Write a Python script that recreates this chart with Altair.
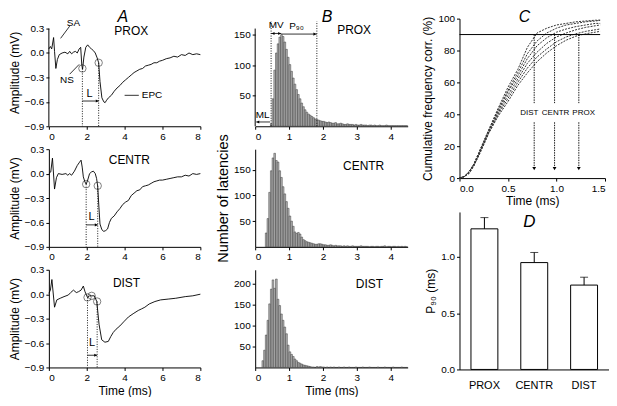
import altair as alt
import pandas as pd

FONT = "Liberation Sans, Arial, DejaVu Sans, sans-serif"

# ---------------- Panel A : field potentials ----------------
PROX_T = [0, 0.08, 0.15, 0.25, 0.3, 0.37, 0.45, 0.55, 0.7, 0.85, 1.0, 1.1, 1.2, 1.3, 1.4, 1.5, 1.6, 1.68,
          1.74, 1.78, 1.85, 1.95, 2.05, 2.15, 2.25, 2.35, 2.45, 2.55, 2.63, 2.7, 2.8, 2.9, 2.97, 3.05, 3.15,
          3.3, 3.45, 3.6, 3.75, 3.9, 4.05, 4.2, 4.35, 4.5, 4.65, 4.8, 4.95, 5.1, 5.25, 5.4, 5.55, 5.7, 5.85,
          6.0, 6.2, 6.4, 6.6, 6.8, 7.0, 7.2, 7.4, 7.6, 7.8, 8.0]
PROX_V = [0.05, 0.08, 0.05, 0.19, 0.02, -0.19, -0.08, -0.02, 0.0, 0.01, -0.01, 0.02, -0.01, 0.01, 0.02, 0.0,
          0.05, 0.07, -0.15, -0.2, -0.05, 0.07, 0.1, 0.07, 0.05, 0.03, 0.0, -0.06, -0.12, -0.35, -0.55, -0.6,
          -0.61, -0.58, -0.55, -0.52, -0.47, -0.43, -0.4, -0.36, -0.33, -0.3, -0.27, -0.24, -0.22, -0.2, -0.19,
          -0.16, -0.15, -0.14, -0.12, -0.12, -0.1, -0.09, -0.07, -0.06, -0.04, -0.05, -0.02, -0.03, 0.0, -0.02,
          -0.01, -0.02]
CENTR_T = [0, 0.1, 0.19, 0.3, 0.4, 0.5, 0.7, 0.9, 1.0, 1.1, 1.2, 1.35, 1.5, 1.62, 1.7, 1.76, 1.82, 1.9, 1.97,
           2.05, 2.15, 2.25, 2.35, 2.45, 2.52, 2.58, 2.64, 2.7, 2.8, 2.9, 3.0, 3.1, 3.2, 3.3, 3.45, 3.6, 3.75,
           3.9, 4.05, 4.2, 4.35, 4.5, 4.65, 4.8, 4.95, 5.1, 5.25, 5.4, 5.55, 5.7, 5.85, 6.0, 6.2, 6.4, 6.6,
           6.8, 7.0, 7.2, 7.4, 7.6, 7.8, 8.0]
CENTR_V = [0.0, 0.02, 0.19, -0.19, -0.05, 0.0, -0.01, 0.0, -0.02, 0.0, -0.02, 0.03, 0.1, 0.14, 0.165, 0.08,
           -0.04, -0.1, -0.13, -0.08, 0.0, 0.02, 0.03, 0.0, -0.06, -0.16, -0.4, -0.62, -0.69, -0.71, -0.7,
           -0.68, -0.6, -0.55, -0.52, -0.47, -0.43, -0.38, -0.35, -0.33, -0.27, -0.24, -0.21, -0.2, -0.16,
           -0.15, -0.14, -0.12, -0.1, -0.09, -0.08, -0.08, -0.07, -0.06, -0.05, -0.04, -0.04, -0.02, -0.03,
           0.0, -0.01, 0.0]
DIST_T = [0, 0.08, 0.16, 0.3, 0.42, 0.6, 0.8, 1.03, 1.15, 1.3, 1.45, 1.56, 1.7, 1.82, 1.91, 2.04, 2.15, 2.26,
          2.4, 2.53, 2.65, 2.79, 2.96, 3.14, 3.27, 3.4, 3.55, 3.75, 3.95, 4.2, 4.45, 4.72, 4.9, 5.07, 5.3,
          5.6, 5.9, 6.3, 6.7, 7.2, 7.6, 8.0]
DIST_V = [0.01, 0.05, 0.18, -0.16, -0.07, -0.05, -0.03, -0.01, 0.02, 0.05, 0.02, 0.03, 0.05, 0.1, 0.03,
          -0.04, -0.02, -0.02, -0.02, -0.09, -0.37, -0.56, -0.59, -0.58, -0.52, -0.47, -0.43, -0.39, -0.34,
          -0.28, -0.24, -0.2, -0.18, -0.16, -0.12, -0.09, -0.07, -0.06, -0.05, -0.03, -0.02, 0.0]

PROX_CIRC_T = [1.77, 2.63]
PROX_CIRC_V = [-0.19, -0.12]
CENTR_CIRC_T = [1.97, 2.58]
CENTR_CIRC_V = [-0.13, -0.15]
DIST_CIRC_T = [2.04, 2.26, 2.55]
DIST_CIRC_V = [-0.04, -0.02, -0.09]
DIST_DROP_T = [2.04, 2.55]
DIST_DROP_V = [-0.04, -0.09]

# ---------------- Panel B : latency histograms (bin 0.05 ms) ----------------
BIN_W = 0.05
PROX_H_START = 0.45
PROX_H = [4, 45, 92, 120, 135, 146, 150, 147, 138, 126,
          113, 101, 90, 79, 69, 60, 52, 45, 38, 32,
          27, 23, 20, 18, 16, 14, 12, 11, 10, 9,
          8, 8, 7, 6, 7, 6, 5, 5, 6, 4,
          4, 5, 4, 3, 3, 4, 3, 3, 3, 2,
          3, 2, 2, 3, 2, 2, 2, 1, 2, 2,
          1, 2, 1, 1, 2, 1, 1, 1, 2, 1,
          1, 1, 1, 1, 1, 1, 1, 1, 1, 1, 1]
CENTR_H_START = 0.30
CENTR_H = [27, 55, 106, 148, 173, 182, 168, 165, 148, 135,
           117, 103, 88, 75, 60, 50, 40, 29, 26, 28,
           25, 19, 14, 12, 10, 9, 8, 7, 6, 5,
           5, 6, 6, 5, 4, 4, 3, 3, 4, 3,
           2, 3, 2, 2, 2, 1, 2, 1, 2, 1,
           1, 2, 1, 1, 1, 1, 2, 1, 1, 1,
           1, 0, 1, 1, 0, 1, 1, 0, 1, 1,
           2, 0, 1, 1, 0, 1, 1, 0, 1, 0,
           1, 0, 1, 0]
DIST_H_START = 0.20
DIST_H = [16, 41, 77, 112, 151, 186, 208, 188, 210, 162,
          147, 127, 112, 96, 80, 53, 37, 31, 26, 20,
          16, 12, 10, 8, 6, 5, 4, 3, 2, 1,
          1, 0, 2, 1, 2, 1, 1, 0, 1, 0,
          1, 0, 1, 0, 0, 1, 0, 0, 1, 0,
          0, 1, 0, 0, 0, 1, 0, 0, 0, 1,
          0, 0, 0, 1, 0, 0, 0, 0, 1, 0,
          0, 0, 1, 0, 0, 0, 0, 1, 0, 0,
          0, 0, 1, 0, 0, 0]

# ---------------- Panel C : cumulative frequency ----------------
C_T = [0, 0.05, 0.1, 0.15, 0.2, 0.25, 0.3, 0.4, 0.5, 0.6, 0.7, 0.8, 0.9, 1.0, 1.1, 1.2, 1.3, 1.4, 1.45]
C_CURVES = {
    "d1": [0, 1, 4, 9, 16, 23, 30, 44, 57, 68, 82, 91, 94, 96, 97, 98, 98.5, 99, 99],
    "d2": [0, 1, 4, 9, 16, 23, 30, 43, 55, 66, 78, 86, 91, 94, 96, 97, 98, 98.5, 99],
    "c1": [0, 1, 4, 9, 15, 22, 29, 42, 54, 64, 75, 83, 88, 91.5, 93.5, 95, 96, 97, 97],
    "c2": [0, 1, 4, 8, 15, 22, 29, 41, 52, 62, 72, 79, 84.5, 88.5, 91, 93, 94.5, 95.5, 96],
    "p1": [0, 1, 3, 8, 15, 21, 28, 40, 50, 60, 69, 76, 81, 85.5, 88.5, 90.5, 92, 93, 93.5],
    "p2": [0, 1, 3, 8, 14, 21, 28, 39, 48, 58, 66, 73, 78.5, 83, 86.5, 89, 90.5, 91.5, 92],
}
C_GROUPS = ["DIST", "CENTR", "PROX"]
C_P90 = [0.77, 0.98, 1.23]
C_LABEL_T = [0.72, 0.99, 1.28]

# ---------------- Panel D : P90 ----------------
D_CATS = ["PROX", "CENTR", "DIST"]
D_MEAN = [1.25, 0.95, 0.75]
D_ERR = [0.10, 0.09, 0.07]

BLACK = "black"
LETTER_SIZE = 16
LETTER_DROP = 3   # px the panel letters' baselines sit below the panel top


def txt(df, size, style="normal", baseline="middle", **kw):
    return alt.Chart(df).mark_text(font=FONT, fontSize=size, fontStyle=style, color=BLACK,
                                   align="center", baseline=baseline, **kw)


# ---------------- builders ----------------
def trace_panel(t, v, circ_t, circ_v, drop_t, drop_v, l_y, l_txt, name, name_pos, xtitle,
                letter=None, extras=False):
    top = 0.3
    height = 98
    per_px = 1.2 / 98
    if letter:
        top = 0.3 + 10 * per_px   # headroom above the axis for the panel letter
        height = 108
    xs = alt.Scale(domain=[0, 8], nice=False)
    ys = alt.Scale(domain=[-0.9, top], nice=False)
    X = alt.X("t:Q", scale=xs, axis=alt.Axis(values=[0, 2, 4, 6, 8], format="d", title=xtitle))
    Y = alt.Y("v:Q", scale=ys, axis=alt.Axis(values=[-0.9, -0.6, -0.3, 0.0, 0.3], format=".1f",
                                            title="Amplitude (mV)", domain=not bool(letter)))
    line = alt.Chart(pd.DataFrame({"t": t, "v": v})).mark_line(color=BLACK, strokeWidth=0.9).encode(X, Y)
    circ = alt.Chart(pd.DataFrame({"t": circ_t, "v": circ_v})).mark_point(
        shape="circle", size=55, color=BLACK, strokeWidth=0.7).encode(X, Y)
    drops = alt.Chart(pd.DataFrame({"t": drop_t, "v": drop_v, "vb": [-0.9] * len(drop_t)})).mark_rule(
        color=BLACK, strokeDash=[1, 1.5], strokeWidth=0.9).encode(X, Y, y2=alt.Y2("vb:Q"))
    larr = alt.Chart(pd.DataFrame({"t": [drop_t[0]], "t2": [drop_t[-1]], "v": [l_y]})).mark_rule(
        color=BLACK, strokeWidth=0.8).encode(X, alt.X2("t2:Q"), Y)
    lhead = alt.Chart(pd.DataFrame({"t": [drop_t[-1] - 0.08], "v": [l_y]})).mark_point(
        shape="triangle-right", filled=True, size=10, color=BLACK, opacity=1).encode(X, Y)
    ltext = txt(pd.DataFrame({"t": [l_txt[0]], "v": [l_txt[1]], "s": ["L"]}), 11).encode(X, Y, text="s:N")
    ntext = txt(pd.DataFrame({"t": [name_pos[0]], "v": [name_pos[1]], "s": [name]}), 12).encode(X, Y, text="s:N")
    layers = [line, drops, circ, larr, lhead, ltext, ntext]
    if letter:
        axis_line = pd.DataFrame({"t": [0.0], "v": [-0.9], "v2": [0.3]})
        layers.append(alt.Chart(axis_line).mark_rule(color=BLACK, strokeWidth=1).encode(X, Y, alt.Y2("v2:Q")))
        lt = pd.DataFrame({"t": [letter[1]], "v": [top - LETTER_DROP * per_px], "s": [letter[0]]})
        layers.append(txt(lt, LETTER_SIZE, style="italic", baseline="alphabetic").encode(X, Y, text="s:N"))
    if extras:
        ann = pd.DataFrame({"t": [1.3, 0.95, 5.45], "v": [0.37, -0.33, -0.52], "s": ["SA", "NS", "EPC"]})
        layers.append(txt(ann, 10).encode(X, Y, text="s:N"))
        segs = pd.DataFrame({"t": [1.1, 1.1, 4.0], "t2": [0.62, 1.6, 4.75],
                             "v": [0.33, -0.26, -0.52], "v2": [0.18, -0.14, -0.52]})
        layers.append(alt.Chart(segs).mark_rule(color=BLACK, strokeWidth=0.8).encode(
            X, alt.X2("t2:Q"), Y, alt.Y2("v2:Q")))
    return alt.layer(*layers).properties(width=152, height=height)


def hist_panel(start, counts, ymax, yvals, name, name_pos, ytitle, xtitle, letter=None, extras=False):
    b0 = [round(start + i * BIN_W, 2) for i in range(len(counts))]
    b1 = [round(x + BIN_W, 2) for x in b0]
    df = pd.DataFrame({"t": b0, "t2": b1, "n": counts, "z": [0] * len(counts)})
    top = ymax
    height = 98
    per_px = ymax / 98
    if letter:
        top = ymax + 10 * per_px
        height = 108
    X = alt.X("t:Q", scale=alt.Scale(domain=[0, 4.5], nice=False),
              axis=alt.Axis(values=[0, 1, 2, 3, 4], format="d", title=xtitle))
    Y = alt.Y("n:Q", scale=alt.Scale(domain=[0, top], nice=False),
              axis=alt.Axis(values=yvals, format="d", title=ytitle, titleFontSize=14.5,
                            domain=not bool(letter)))
    bars = alt.Chart(df).mark_bar(fill="#b4b4b4", stroke="#2a2a2a", strokeWidth=0.45).encode(
        X, alt.X2("t2:Q"), Y, alt.Y2("z:Q"))
    ntext = txt(pd.DataFrame({"t": [name_pos[0]], "n": [name_pos[1]], "s": [name]}), 12).encode(X, Y, text="s:N")
    layers = [bars, ntext]
    if letter:
        axis_line = pd.DataFrame({"t": [0.0], "n": [0], "n2": [ymax]})
        layers.append(alt.Chart(axis_line).mark_rule(color=BLACK, strokeWidth=1).encode(X, Y, alt.Y2("n2:Q")))
        lt = pd.DataFrame({"t": [letter[1]], "n": [top - LETTER_DROP * per_px], "s": [letter[0]]})
        layers.append(txt(lt, LETTER_SIZE, style="italic", baseline="alphabetic").encode(X, Y, text="s:N"))
    if extras:
        vl = pd.DataFrame({"t": [0.47, 1.82], "n": [0, 0], "n2": [172, 172]})
        layers.append(alt.Chart(vl).mark_rule(color=BLACK, strokeDash=[1, 1.5], strokeWidth=0.9).encode(
            X, Y, alt.Y2("n2:Q")))
        seg = pd.DataFrame({"t": [0.47, 0.77, 0.03], "t2": [0.77, 1.82, 0.44], "n": [152, 151, 7]})
        layers.append(alt.Chart(seg).mark_rule(color=BLACK, strokeWidth=0.8).encode(X, alt.X2("t2:Q"), Y))
        hr = pd.DataFrame({"t": [0.72, 1.76], "n": [152, 151]})
        layers.append(alt.Chart(hr).mark_point(shape="triangle-right", filled=True, size=10, color=BLACK,
                                               opacity=1).encode(X, Y))
        hl = pd.DataFrame({"t": [0.53, 0.08], "n": [152, 7]})
        layers.append(alt.Chart(hl).mark_point(shape="triangle-left", filled=True, size=10, color=BLACK,
                                               opacity=1).encode(X, Y))
        ann = pd.DataFrame({"t": [0.62, 1.22, 0.22], "n": [166, 164, 19], "s": ["MV", "P\u2089\u2080", "ML"]})
        layers.append(txt(ann, 10).encode(X, Y, text="s:N"))
    return alt.layer(*layers).properties(width=153, height=height)


def cum_panel():
    rows = []
    for k, vals in C_CURVES.items():
        for t, p in zip(C_T, vals):
            rows.append({"c": k, "t": t, "p": p})
    df = pd.DataFrame(rows)
    X = alt.X("t:Q", scale=alt.Scale(domain=[0, 1.5], nice=False),
              axis=alt.Axis(values=[0, 0.5, 1.0, 1.5], format=".1f", title="Time (ms)"))
    Y = alt.Y("p:Q", scale=alt.Scale(domain=[0, 100], nice=False),
              axis=alt.Axis(values=[0, 20, 40, 60, 80, 100], format="d", title="Cumulative frequency corr. (%)"))
    curves = alt.Chart(df).mark_line(color="#333333", strokeDash=[2, 1.2], strokeWidth=1).encode(
        X, Y, detail="c:N")
    h90 = alt.Chart(pd.DataFrame({"t": [0.0], "t2": [1.45], "p": [90]})).mark_rule(
        color=BLACK, strokeWidth=1).encode(X, alt.X2("t2:Q"), Y)
    up = pd.DataFrame({"t": C_P90, "p": [90] * 3, "p2": [47] * 3})
    lo = pd.DataFrame({"t": C_P90, "p": [35] * 3, "p2": [7] * 3})
    arr1 = alt.Chart(up).mark_rule(color=BLACK, strokeDash=[1.5, 1], strokeWidth=0.9).encode(X, Y, alt.Y2("p2:Q"))
    arr2 = alt.Chart(lo).mark_rule(color=BLACK, strokeDash=[1.5, 1], strokeWidth=0.9).encode(X, Y, alt.Y2("p2:Q"))
    heads = alt.Chart(pd.DataFrame({"t": C_P90, "p": [6] * 3})).mark_point(
        shape="triangle-down", filled=True, size=14, color=BLACK, opacity=1).encode(X, Y)
    labs = txt(pd.DataFrame({"t": C_LABEL_T, "p": [41] * 3, "s": C_GROUPS}), 8).encode(X, Y, text="s:N")
    lt = txt(pd.DataFrame({"t": [0.67], "p": [100 - LETTER_DROP * 100 / 160], "s": ["C"]}), LETTER_SIZE,
             style="italic", baseline="alphabetic").encode(X, Y, text="s:N")
    return alt.layer(curves, h90, arr1, arr2, heads, labs, lt).properties(width=146, height=160)


def bar_panel():
    df = pd.DataFrame({"g": D_CATS, "m": D_MEAN, "top": [m + e for m, e in zip(D_MEAN, D_ERR)]})
    X = alt.X("g:N", sort=D_CATS, scale=alt.Scale(paddingInner=0.46, paddingOuter=0.23),
              axis=alt.Axis(title=None, labelAngle=0, ticks=False, labelPadding=10, labelFontSize=11))
    Y = alt.Y("m:Q", scale=alt.Scale(domain=[0, 1.4], nice=False),
              axis=alt.Axis(values=[0, 0.5, 1.0], format=".1f", title="P\u2089\u2080 (ms)"))
    bars = alt.Chart(df).mark_bar(fill="white", stroke=BLACK, strokeWidth=1).encode(X, Y)
    err = alt.Chart(df).mark_rule(color=BLACK, strokeWidth=1).encode(X, Y, alt.Y2("top:Q"))
    cap = alt.Chart(df).mark_tick(color=BLACK, thickness=1, size=8).encode(X, alt.Y("top:Q"))
    dl = txt(pd.DataFrame({"g": ["CENTR"], "m": [1.31], "s": ["D"]}), 17, style="italic", dx=-5).encode(
        X, Y, text="s:N")
    return alt.layer(bars, err, cap, dl).properties(width=150, height=158)


a1 = trace_panel(PROX_T, PROX_V, PROX_CIRC_T, PROX_CIRC_V, PROX_CIRC_T, PROX_CIRC_V, -0.59, (2.15, -0.5),
                 "PROX", (4.35, 0.275), None, letter=("A", 3.9), extras=True)
a2 = trace_panel(CENTR_T, CENTR_V, CENTR_CIRC_T, CENTR_CIRC_V, CENTR_CIRC_T, CENTR_CIRC_V, -0.63, (2.26, -0.53),
                 "CENTR", (4.25, 0.17), None)
a3 = trace_panel(DIST_T, DIST_V, DIST_CIRC_T, DIST_CIRC_V, DIST_DROP_T, DIST_DROP_V, -0.75, (2.28, -0.6),
                 "DIST", (4.1, 0.14), "Time (ms)")

b1 = hist_panel(PROX_H_START, PROX_H, 160, [50, 100, 150], "PROX", (2.92, 157), None, None,
                letter=("B", 2.12), extras=True)
b2 = hist_panel(CENTR_H_START, CENTR_H, 190, [50, 100, 150], "CENTR", (3.2, 157), "Number of latencies", None)
b3 = hist_panel(DIST_H_START, DIST_H, 232, [50, 100, 150, 200], "DIST", (3.37, 198), None, "Time (ms)")

colA = alt.vconcat(a1, a2, a3, spacing=23, bounds="flush")
colB = alt.vconcat(b1, b2, b3, spacing=23, bounds="flush")
colC = alt.vconcat(cum_panel(), bar_panel(), spacing=34, bounds="flush")

chart = alt.hconcat(colA, colB, colC, spacing=13, padding=0).configure_axis(
    domainColor=BLACK, tickColor=BLACK, labelColor=BLACK, titleColor=BLACK, grid=False,
    tickSize=3, labelFontSize=10, titleFontSize=12, labelFont=FONT, titleFont=FONT,
    titleFontWeight="normal", labelPadding=2, titlePadding=3, domainWidth=1, tickWidth=1
).configure_view(strokeWidth=0)

chart.save("out.html", embed_options={"renderer": "svg", "actions": False})
